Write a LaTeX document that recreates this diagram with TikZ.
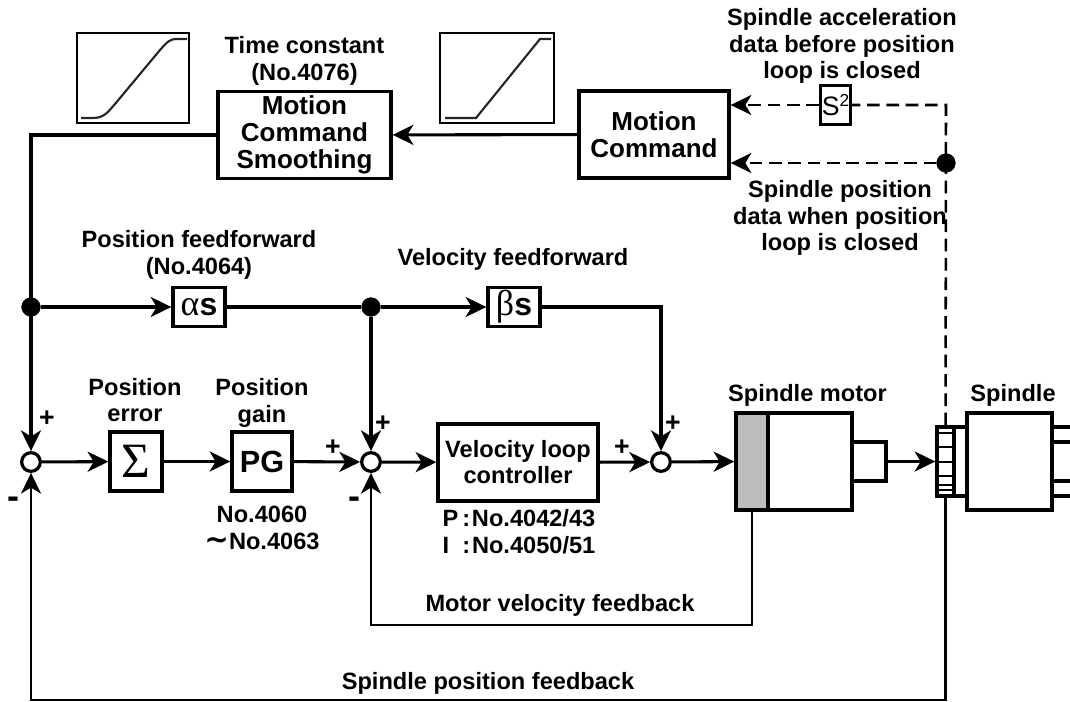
\documentclass[tikz,border=0pt]{standalone}
\usepackage{fontspec}
\setmainfont{Liberation Sans}
\newfontfamily\grkfont{Liberation Serif}
\newfontfamily\tildefont{DejaVu Sans}
\usetikzlibrary{arrows.meta}
\colorlet{rotorcol}{black!26}
\tikzstyle{joint}=[circle, draw, fill=black, inner sep=0pt, minimum size=14pt]
\tikzstyle{sumnode}=[circle, draw, line width=2.4pt, fill=white, inner sep=0pt, minimum size=14pt]
\tikzstyle{box}=[rectangle, draw, line width=2.5pt, fill=white, inner sep=0pt, align=center, font=\bfseries\fontsize{19.5}{20}\selectfont]
\tikzstyle{thinbox}=[rectangle, draw=black, line width=0.8pt, inner sep=0pt]
\tikzstyle{txt}=[inner sep=0pt, align=center, font=\bfseries\fontsize{17.7}{20}\selectfont]
\tikzstyle{sign}=[inner sep=0pt, font=\bfseries\fontsize{20}{20}\selectfont]
\tikzstyle{bar}=[line width=2.3pt]
\tikzstyle{edge}=[bar, -{Stealth[length=15.5pt,width=15pt,inset=4.5pt]}]
\tikzstyle{fbedge}=[edge, line width=1.8pt]
\tikzstyle{dashedge}=[line width=1.9pt, dash pattern=on 9.5pt off 5pt]
\tikzstyle{dashtip}=[dashedge, -{Stealth[length=15.5pt,width=15pt,inset=4.5pt]}]
\tikzstyle{curve}=[line width=1.6pt,black!85]
\tikzset{sz/.style 2 args={minimum width=#1*0.75pt, minimum height=#2*0.75pt}}

\begin{document}
\begin{tikzpicture}[x=0.75pt,y=-0.75pt]
	\useasboundingbox (0,0) rectangle (1070,702);
	\node[thinbox,sz={112}{90}] (graph1) at (133,78) {};
	\node[thinbox,sz={114}{90}] (graph2) at (497,78) {};
	\node[box,sz={173}{87}] (smoothing) at (304.5,135) {Motion\\Command\\Smoothing};
	\node[box,sz={150}{87}] (command) at (654,134.5) {Motion\\Command};
	\node[box,sz={30}{39},font=\fontsize{20}{20}\selectfont] (acc) at (835.5,105) {S\raisebox{6.5pt}{\fontsize{13}{13}\selectfont 2}};
	\node[joint] (dot3) at (946,163) {};
	\node[joint] (dot1) at (31,307) {};
	\node[joint] (dot2) at (371,307) {};
	\node[box,sz={52}{39},font=\bfseries\fontsize{24}{24}\selectfont] (alpha) at (199,307) {{\grkfont\mdseries\fontsize{27}{24}\selectfont α}s};
	\node[box,sz={52}{39},font=\bfseries\fontsize{24}{24}\selectfont] (beta) at (514,307) {{\grkfont\mdseries\fontsize{27}{24}\selectfont β}s};
	\node[sumnode] (sum1) at (31,462) {};
	\node[sumnode] (sum2) at (371,462) {};
	\node[sumnode] (sum3) at (661,462) {};
	\node[box,sz={52}{59},font=\grkfont\fontsize{37}{37}\selectfont] (sigma) at (136,461.5) {Σ};
	\node[box,sz={60}{59},font=\bfseries\fontsize{23}{23}\selectfont] (pg) at (262,461.5) {PG};
	\node[box,sz={160}{77},font=\bfseries\fontsize{17.7}{19.5}\selectfont] (velctrl) at (518,462.5) {Velocity loop\\controller};
	\node[box,sz={84}{97}] (motor) at (810,461.5) {};
	\node[box,sz={32}{97},fill=rotorcol] (rotor) at (752,461.5) {};
	\node[box,sz={34}{39}] (shaft) at (869,461.5) {};
	\node[box,sz={13}{69}] (neck) at (960.5,461.5) {};
	\node[box,sz={17}{69}] (ring) at (945.5,461.5) {};
	\node[box,sz={85}{97}] (spindle) at (1009.5,461.5) {};
	\node[txt] (t1) at (304.5,61) {Time constant\\(No.4076)};
	\node[txt] (t2) at (842,46) {Spindle acceleration\\data before position\\loop is closed};
	\node[txt] (t3) at (840,218) {Spindle position\\data when position\\loop is closed};
	\node[txt] (t4) at (199,255) {Position feedforward\\(No.4064)};
	\node[txt] (t5) at (513,259) {Velocity feedforward};
	\node[txt] (t6) at (135,400) {Position\\error};
	\node[txt] (t7) at (262,403) {Position\\gain};
	\node[txt] (t8) at (262,528) {No.4060\\{\tildefont\fontsize{22}{20}\selectfont ∼}No.4063};
	\node[txt,align=left] (t9) at (519,532) {\makebox[22pt][l]{P\,:}No.4042/43\\\makebox[22pt][l]{I\ \ :}No.4050/51};
	\node[txt] (t10) at (560,605) {Motor velocity feedback};
	\node[txt] (t11) at (488,683) {Spindle position feedback};
	\node[txt] (t12) at (807.5,395) {Spindle motor};
	\node[txt] (t13) at (1013,395) {Spindle};
	\node[sign] (p1) at (47,419) {+};
	\node[sign] (p2) at (383,424) {+};
	\node[sign] (p3) at (333,448) {+};
	\node[sign] (p4) at (622,448) {+};
	\node[sign] (p5) at (673,424) {+};
	\node[sign,font=\bfseries\fontsize{27}{27}\selectfont] (m1) at (13.5,503) {-};
	\node[sign,font=\bfseries\fontsize{27}{27}\selectfont] (m2) at (354,503) {-};
	\coordinate (corner1) at (31,700);
	\coordinate (corner2) at (371,625);
	\coordinate (corner3) at (946,105);
	\draw[edge] (command)edge(smoothing) (smoothing) -| (sum1);
	\draw[bar] (dot2)--(alpha);
	\draw[edge] (dot1)edge(alpha) (dot2)edge(beta) (dot2)edge(sum2) (beta) -| (sum3);
	\draw[edge] (sum1)edge(sigma) (sigma)edge(pg) (pg)edge(sum2) (sum2)edge(velctrl) (velctrl)edge(sum3) (sum3)edge(rotor) (shaft)edge(ring);
	\draw[fbedge] (rotor) |- (corner2) -- (sum2);
	\draw[fbedge] (ring) |- (corner1) -- (sum1);
	\draw[dashedge] (ring) -- (corner3) -- (acc);
	\draw[dashtip] (acc) -- (acc -| command.east);
	\draw[dashtip] (dot3) -- (dot3 -| command.east);
	\foreach \y in {433,447,462,476,485,490} {
		\draw[line width=1.4pt] (937,\y) -- (954,\y);
	}
	\foreach \y in {427,442,481,496} {
		\draw[bar] (1052,\y) -- (1070,\y);
	}
	\draw[curve] (445,118) -- (476,118) -- (540,39) -- (551,39);
	\draw[curve] (81,118) -- (93,118) .. controls (104,118) and (108,112) .. (115,104) -- (160,50) .. controls (167,42) and (170,39) .. (176,39) -- (187,39);
\end{tikzpicture}
\end{document}
